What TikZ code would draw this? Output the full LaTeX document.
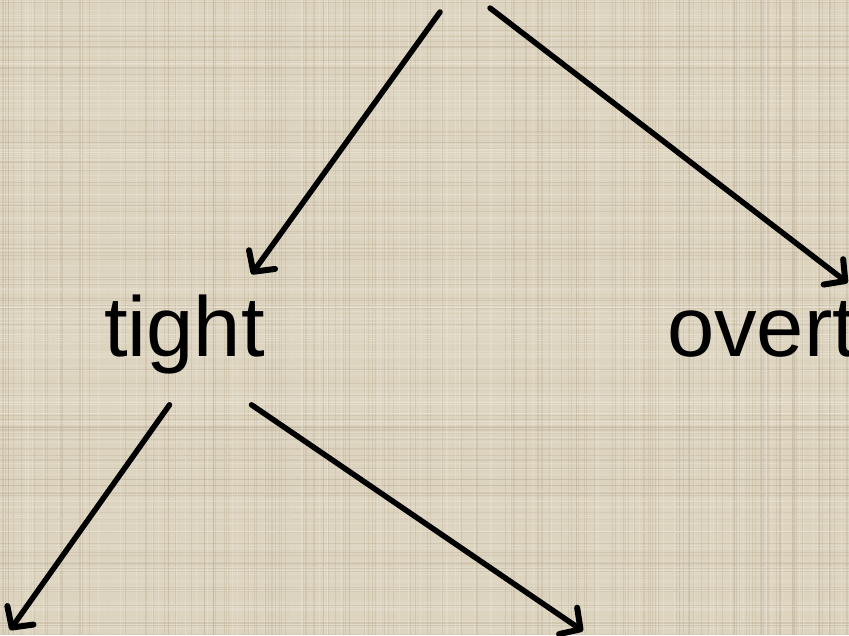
\documentclass[tikz,border=0pt]{standalone}
\usepackage{fontspec}
\setmainfont{Liberation Sans}
\usetikzlibrary{arrows.meta,positioning,calc}
\definecolor{canvasbg}{HTML}{DDD4C0}
\definecolor{canvasdk}{HTML}{BDB096}
\definecolor{canvaslt}{HTML}{EEE8DA}
\tikzset{
  word/.style  = {font=\fontsize{85}{100}\selectfont, inner sep=20pt,
                  anchor=base west, text=black},
  arr/.style   = {-{Straight Barb[length=15pt,width=32pt,line width=6pt,round]},
                  line width=5.5pt, draw=black, line cap=round},
  weave/.style = {line width=0.7pt, opacity=0.35},
}
\begin{document}
\begin{tikzpicture}[x=1pt,y=-1pt]
  % canvas background
  \fill[canvasbg] (0,0) rectangle (849,635);
  \clip (0,0) rectangle (849,635);
  \pgfmathsetseed{4711}
  \foreach \i in {1,...,170}{
    \pgfmathsetmacro\xx{rnd*849}
    \pgfmathsetmacro\yy{rnd*635}
    \draw[weave, canvasdk] (\xx,0) -- (\xx,635);
    \draw[weave, canvaslt] (0,\yy) -- (849,\yy);
  }
  \foreach \i in {1,...,90}{
    \pgfmathsetmacro\xx{rnd*849}
    \pgfmathsetmacro\yy{rnd*635}
    \draw[weave, canvaslt] (\xx,0) -- (\xx,635);
    \draw[weave, canvasdk] (0,\yy) -- (849,\yy);
  }

  % words
  \node[word] (tight) at (84,356) {tight};
  \node[word] (overt) at (647,356) {overt};

  % free ends
  \coordinate (topl) at (440,12);
  \coordinate (topr) at (490,8);
  \coordinate (botl) at (10,630);
  \coordinate (botr) at (583,631);

  % arrows
  \draw[arr] (topl) -- ([xshift=67pt]tight.north);
  \draw[arr] (topr) -- ([xshift=86pt,yshift=-2pt]overt.north);
  \draw[arr] ([xshift=-15pt,yshift=-11pt]tight.south) -- (botl);
  \draw[arr] ([xshift=67pt,yshift=-11pt]tight.south) -- (botr);
\end{tikzpicture}
\end{document}
